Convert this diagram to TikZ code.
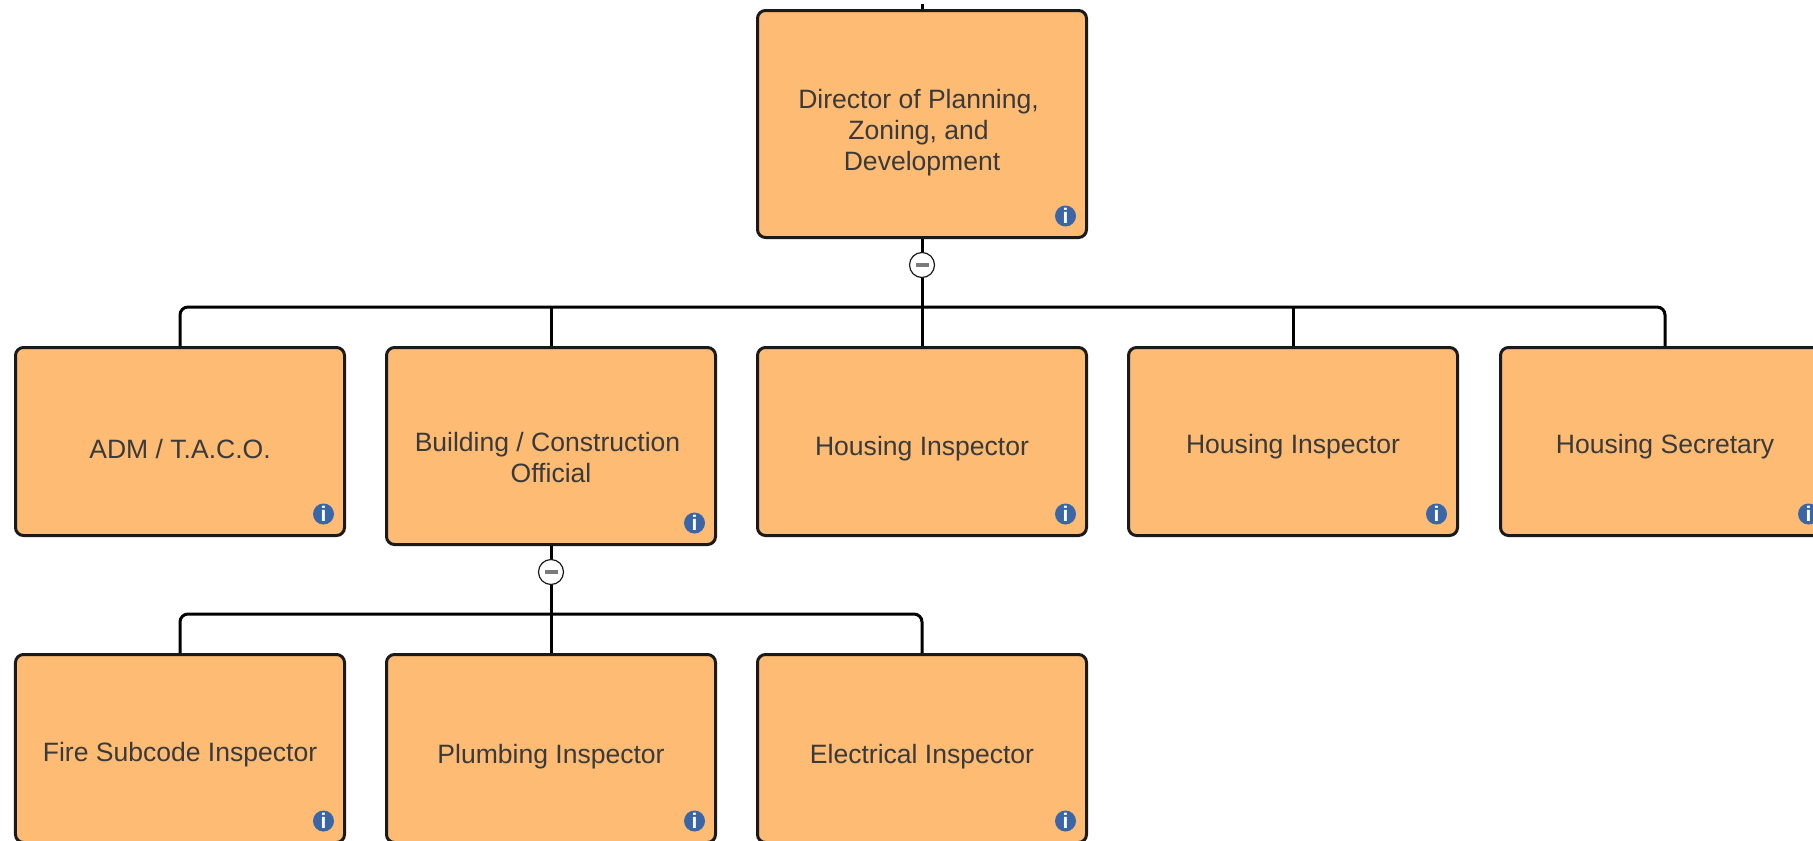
\documentclass[tikz,border=0pt]{standalone}
\usepackage{fontspec}
\setmainfont{Liberation Sans}
\usepackage{tikz}
\usetikzlibrary{positioning}
\definecolor{boxfill}{HTML}{FDBB74}
\definecolor{boxline}{HTML}{1A1A1A}
\definecolor{boxtext}{HTML}{3A3A3A}
\definecolor{infoblue}{HTML}{3A66A8}
\definecolor{minusgray}{HTML}{7A7A7A}
\tikzset{
	orgbox/.style={draw=boxline, fill=boxfill, line width=0.03cm, rounded corners=0.08cm, minimum width=3.29cm, minimum height=1.88cm, inner sep=0pt},
	tallbox/.style={orgbox, minimum height=1.97cm},
	topbox/.style={orgbox, minimum height=2.27cm},
	orgtext/.style={align=center, text=boxtext, font=\fontsize{7.55}{8.8}\selectfont, inner sep=0pt},
	conn/.style={draw=black, line width=0.03cm, rounded corners=0.08cm},
	toggle/.style={circle, draw=boxline, fill=white, line width=0.012cm, minimum size=0.25cm, inner sep=0pt,
		path picture={\fill[minusgray] ([xshift=-0.065cm,yshift=-0.016cm]path picture bounding box.center) rectangle ([xshift=0.065cm,yshift=0.016cm]path picture bounding box.center);}},
	infoicon/.style={circle, fill=infoblue, text=white, minimum size=0.21cm, inner sep=0pt, font=\fontsize{6}{6}\bfseries\selectfont},
}
\newcommand{\trailgap}{\hspace{0.07cm}\mbox{}}

\begin{document}
\begin{tikzpicture}
	\path[use as bounding box, clip] (0,0) rectangle (18.13,-8.40);
	% Define nodes
	\node[topbox]                                     (dir) at (9.22,-1.24) {};
	\node[orgbox, below=1.07cm of dir]                (hi1) {};
	\node[tallbox, below=1.07cm of dir, xshift=-3.71cm] (bco) {};
	\node[orgbox, below=1.07cm of dir, xshift=-7.42cm]  (adm) {};
	\node[orgbox, below=1.07cm of dir, xshift=3.71cm]   (hi2) {};
	\node[orgbox, below=1.07cm of dir, xshift=7.43cm]   (sec) {};
	\node[orgbox, below=1.07cm of bco]                (plb) {};
	\node[orgbox, below=1.07cm of bco, xshift=-3.71cm]  (fire) {};
	\node[orgbox, below=1.07cm of bco, xshift=3.71cm]   (elec) {};
	% Box texts
	\node[orgtext] (dirtxt)  at ([yshift=-0.085cm]dir.center) {Director of Planning,\trailgap\\Zoning, and\trailgap\\Development};
	\node[orgtext] (admtxt)  at ([yshift=-0.08cm]adm.center) {ADM / T.A.C.O.};
	\node[orgtext] (bcotxt)  at ([yshift=-0.115cm]bco.center) {Building / Construction\trailgap\\Official};
	\node[orgtext] (hi1txt)  at ([yshift=-0.073cm]hi1.center) {Housing Inspector};
	\node[orgtext] (hi2txt)  at ([yshift=-0.053cm]hi2.center) {Housing Inspector};
	\node[orgtext] (sectxt)  at ([yshift=-0.053cm]sec.center) {Housing Secretary};
	\node[orgtext] (firetxt) at ([yshift=-0.066cm]fire.center) {Fire Subcode Inspector};
	\node[orgtext] (plbtxt)  at ([yshift=-0.085cm]plb.center) {Plumbing Inspector};
	\node[orgtext] (electxt) at ([yshift=-0.085cm]elec.center) {Electrical Inspector};
	% Connect the nodes
	\coordinate[above=0.05cm of dir]  (dirtop);
	\coordinate[above=0.39cm of hi1]  (dirbus);
	\coordinate[above=0.39cm of plb]  (bcobus);
	\draw[conn] (dirtop) -- (dir);
	\draw[conn] (dir) -- (hi1);
	\draw[conn] (adm.north) |- (dirbus) -| (sec.north);
	\foreach \n in {bco,hi2}
		\draw[conn] (\n.north) -- (\n.north |- dirbus);
	\draw[conn] (bco) -- (plb);
	\draw[conn] (fire.north) |- (bcobus) -| (elec.north);
	% Toggles
	\node[toggle, below=0.26cm of dir.south, anchor=center] (dirtog) {};
	\node[toggle, below=0.26cm of bco.south, anchor=center] (bcotog) {};
	% Info icons
	\foreach \n in {dir,adm,bco,hi1,hi2,sec,fire,plb,elec}
		\node[infoicon] (\n info) at ([xshift=-0.225cm,yshift=0.23cm]\n.south east) {i};
\end{tikzpicture}
\end{document}
